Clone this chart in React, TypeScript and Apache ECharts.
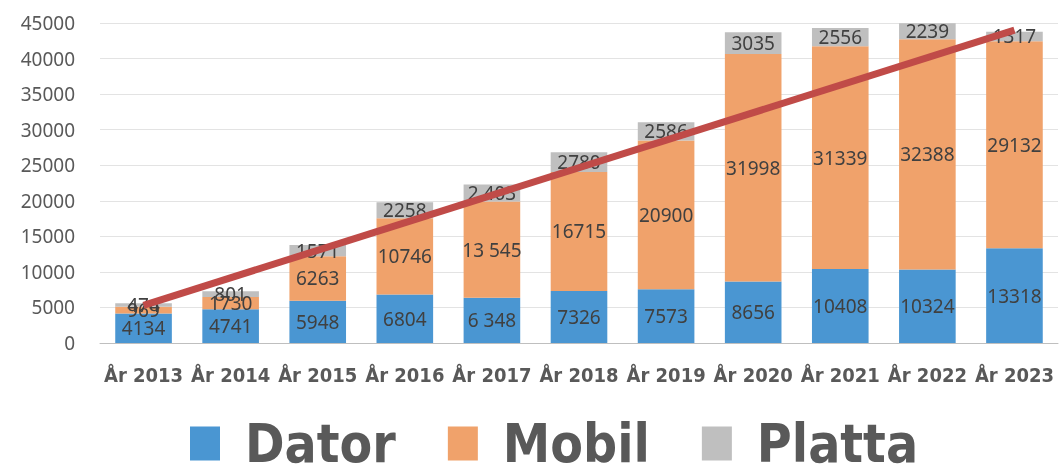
import React, { useEffect, useRef } from "react";
import * as echarts from "echarts";

const categories = ["År 2013", "År 2014", "År 2015", "År 2016", "År 2017", "År 2018", "År 2019", "År 2020", "År 2021", "År 2022", "År 2023"];
const dator = [4134, 4741, 5948, 6804, 6348, 7326, 7573, 8656, 10408, 10324, 13318];
const mobil = [969, 1730, 6263, 10746, 13545, 16715, 20900, 31998, 31339, 32388, 29132];
const platta = [474, 801, 1571, 2258, 2403, 2780, 2586, 3035, 2556, 2239, 1317];
const trend = [5300, null, null, null, null, null, null, null, null, null, 44000];
const spacedCategories = ["År 2017"];

const FONT = "'DejaVu Sans Condensed', 'Noto Sans', sans-serif";

function fmt(v: number, idx: number) {
  const s = String(v);
  if (spacedCategories.includes(categories[idx]) && s.length > 3) {
    return s.slice(0, s.length - 3) + " " + s.slice(s.length - 3);
  }
  return s;
}

export default function App() {
  const ref = useRef<HTMLDivElement>(null);
  useEffect(() => {
    if (!ref.current) return;
    const chart = echarts.init(ref.current, undefined, { renderer: "svg" });
    const label = {
      show: true,
      position: "inside",
      color: "#404040",
      fontSize: 19,
      fontFamily: "'Noto Sans', sans-serif",
      formatter: (p: any) => fmt(p.value, p.dataIndex),
    };
    const mkBar = (name: string, data: number[], color: string) => ({
      name,
      type: "bar",
      stack: "total",
      data,
      barWidth: "65%",
      itemStyle: { color },
      label,
      z: 2,
    });
    chart.setOption({
      animation: false,
      grid: { left: 100, right: 2, top: 23, bottom: 123 },
      legend: {
        data: ["Dator", "Mobil", "Platta"],
        left: 185,
        top: 412,
        icon: "rect",
        itemWidth: 30,
        itemHeight: 34,
        itemGap: 52,
        textStyle: {
          fontSize: 53,
          lineHeight: 42,
          fontWeight: "bold",
          color: "#595959",
          fontFamily: FONT,
          padding: [0, 0, 8, 20],
        },
      },
      xAxis: {
        type: "category",
        data: categories,
        axisTick: { show: false },
        axisLine: { lineStyle: { color: "#bfbfbf" } },
        axisLabel: {
          color: "#595959",
          fontSize: 20,
          fontWeight: "bold",
          fontFamily: FONT,
          margin: 22,
          interval: 0,
        },
      },
      yAxis: {
        type: "value",
        min: 0,
        max: 45000,
        interval: 5000,
        axisLabel: {
          color: "#595959",
          fontSize: 19,
          fontFamily: "'Noto Sans', sans-serif",
          margin: 25,
          formatter: (v: number) => String(v),
        },
        splitLine: { lineStyle: { color: "#e3e3e3" } },
      },
      series: [
        mkBar("Dator", dator, "#4a96d2"),
        mkBar("Mobil", mobil, "#f0a26b"),
        mkBar("Platta", platta, "#bfbfbf"),
        {
          name: "Trend",
          type: "line",
          data: trend,
          connectNulls: true,
          symbol: "none",
          lineStyle: { color: "#c04b48", width: 7 },
          z: 10,
        },
      ],
    });
    return () => chart.dispose();
  }, []);
  return <div ref={ref} style={{ position: "fixed", left: 0, top: 0, width: 1060, height: 466 }} />;
}
